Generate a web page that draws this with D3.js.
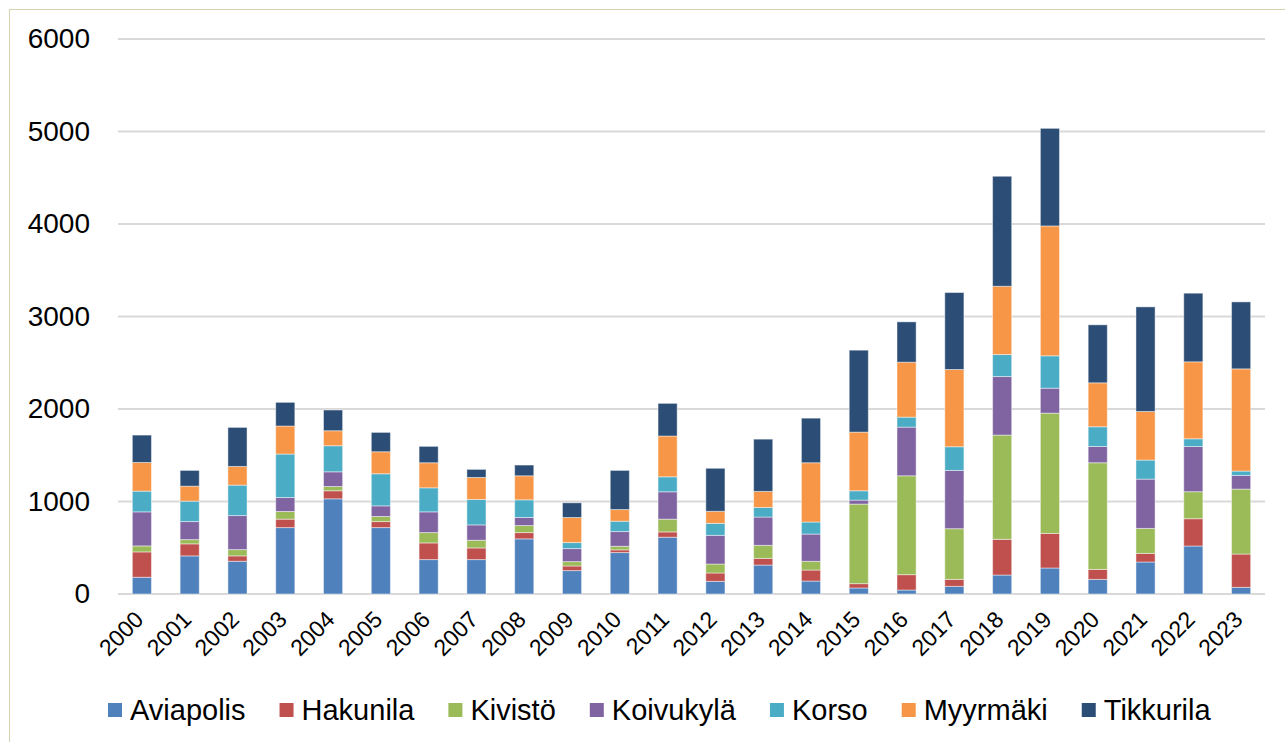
<!DOCTYPE html>
<html lang="fi">
<head>
    <meta charset="UTF-8"/>
    <title>Stacked bars by area 2000-2023</title>
    <script src="https://d3js.org/d3.v7.min.js"></script>
    <style>
        body { margin: 0; background: #fff; }
        text { font-family: "Liberation Sans", Arial, sans-serif; fill: #000; }
    </style>
</head>
<body>
    <div id="chart"></div>

    <script>
        // Years and area names
        var years = ["2000","2001","2002","2003","2004","2005","2006","2007","2008","2009","2010","2011",
                     "2012","2013","2014","2015","2016","2017","2018","2019","2020","2021","2022","2023"];
        var areas = ["Aviapolis", "Hakunila", "Kivistö", "Koivukylä", "Korso", "Myyrmäki", "Tikkurila"];

        // One array per area, one value per year
        var aviapolis = [181, 412, 354, 718, 1029, 718, 372, 372, 596, 253, 448, 614,
                         137, 313, 140, 65, 43, 83, 205, 281, 158, 346, 519, 72];
        var hakunila  = [274, 130, 58, 91, 87, 65, 180, 126, 68, 50, 29, 57,
                         90, 72, 119, 47, 166, 75, 386, 374, 108, 93, 295, 360];
        var kivisto   = [65, 46, 68, 83, 46, 55, 112, 83, 76, 47, 39, 138,
                         97, 141, 94, 860, 1069, 548, 1127, 1300, 1153, 270, 292, 702];
        var koivukyla = [368, 195, 368, 151, 159, 115, 224, 166, 87, 141, 159, 296,
                         310, 306, 295, 43, 526, 630, 633, 270, 176, 533, 489, 148];
        var korso     = [224, 221, 329, 470, 282, 347, 260, 275, 191, 65, 112, 162,
                         130, 104, 130, 101, 108, 256, 238, 350, 213, 206, 83, 47];
        var myyrmaki  = [310, 162, 202, 303, 162, 238, 271, 238, 260, 271, 126, 441,
                         130, 173, 641, 634, 594, 835, 738, 1404, 475, 525, 832, 1105];
        var tikkurila = [296, 170, 422, 256, 224, 209, 177, 87, 116, 159, 423, 353,
                         465, 565, 482, 886, 436, 832, 1189, 1055, 627, 1131, 742, 724];

        var yTicks = [0, 1000, 2000, 3000, 4000, 5000, 6000];

        var colors = ["#4F81BD", "#C0504D", "#9BBB59", "#8064A2", "#4BACC6", "#F79646", "#2C4D75"];

        // Build table rows for d3.stack
        var series = [aviapolis, hakunila, kivisto, koivukyla, korso, myyrmaki, tikkurila];
        var rows = years.map(function(y, i) {
            var row = { year: y };
            areas.forEach(function(a, j) { row[a] = series[j][i]; });
            return row;
        });
        var stacked = d3.stack().keys(areas)(rows);

        var width = 1285;
        var height = 742;
        // plot area edges
        var plotLeft = 118, plotRight = 1265, plotTop = 39, plotBottom = 594;

        var svg = d3.select("#chart")
            .append("svg")
            .attr("width", width)
            .attr("height", height);

        // Chart frame
        svg.append("rect")
            .attr("x", 9.5)
            .attr("y", 9.5)
            .attr("width", width)
            .attr("height", height)
            .attr("fill", "none")
            .attr("stroke", "#D6D3B3")
            .attr("stroke-width", 1);

        var xScale = d3.scaleBand()
            .domain(years)
            .range([plotLeft, plotRight])
            .paddingInner(0.6)
            .paddingOuter(0.3);

        var yScale = d3.scaleLinear()
            .domain([0, 6000])
            .range([plotBottom, plotTop]);

        // Gridlines
        svg.append("g")
            .selectAll("line")
            .data(yTicks)
            .enter()
            .append("line")
            .attr("x1", plotLeft)
            .attr("x2", plotRight)
            .attr("y1", function(d) { return yScale(d); })
            .attr("y2", function(d) { return yScale(d); })
            .attr("stroke", "#D9D9D9")
            .attr("stroke-width", 2);

        // Y axis labels
        var yAxis = d3.axisLeft(yScale)
            .tickValues(yTicks)
            .tickFormat(d3.format("d"))
            .tickSize(0)
            .tickPadding(0);
        var yG = svg.append("g")
            .attr("transform", "translate(90,0)")
            .call(yAxis);
        yG.select(".domain").remove();
        yG.selectAll("text")
            .attr("font-size", "28px")
            .attr("font-family", "Liberation Sans, Arial, sans-serif")
            .attr("fill", "#000");

        // Stacked bars
        svg.append("g")
            .selectAll("g")
            .data(stacked)
            .enter()
            .append("g")
            .attr("fill", function(d, i) { return colors[i]; })
            .selectAll("rect")
            .data(function(d) { return d; })
            .enter()
            .append("rect")
            .attr("x", function(d) { return xScale(d.data.year); })
            .attr("y", function(d) { return yScale(d[1]); })
            .attr("width", xScale.bandwidth())
            .attr("height", function(d) { return yScale(d[0]) - yScale(d[1]); })
            .attr("stroke", "#fff")
            .attr("stroke-opacity", 0.45)
            .attr("stroke-width", 1);

        // X axis labels, rotated
        svg.append("g")
            .selectAll("text")
            .data(years)
            .enter()
            .append("text")
            .attr("transform", function(d) {
                return "translate(" + (xScale(d) + xScale.bandwidth() / 2 + 3) + ",621)rotate(-45)";
            })
            .attr("text-anchor", "end")
            .attr("font-size", "23px")
            .text(function(d) { return d; });

        // Legend
        var legend = svg.append("g");
        var lx = 108;
        areas.forEach(function(a, i) {
            legend.append("rect")
                .attr("x", lx)
                .attr("y", 703)
                .attr("width", 14)
                .attr("height", 14)
                .attr("fill", colors[i]);
            var t = legend.append("text")
                .attr("x", lx + 22)
                .attr("y", 720)
                .attr("font-size", "29px")
                .text(a);
            lx += 22 + t.node().getComputedTextLength() + 34;
        });
    </script>
</body>
</html>
